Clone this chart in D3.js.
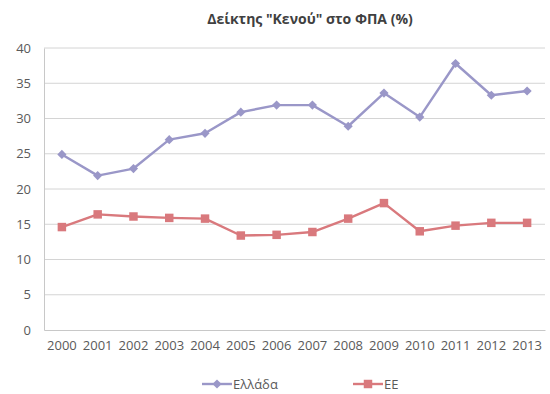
<!DOCTYPE html>
<html>
<head>
<meta charset="utf-8">
<script src="https://cdn.jsdelivr.net/npm/d3@7"></script>
<style>
  html, body { margin: 0; padding: 0; background: #fff; }
  svg { display: block; font-family: "Open Sans", "Liberation Sans", sans-serif; }
</style>
</head>
<body>
<svg id="chart" width="550" height="394"></svg>
<script>
// VAT gap index (%), Greece vs EU
const years = ["2000","2001","2002","2003","2004","2005","2006","2007","2008","2009","2010","2011","2012","2013"];
const greece = [24.9, 21.9, 22.9, 27.0, 27.9, 30.9, 31.9, 31.9, 28.9, 33.6, 30.2, 37.8, 33.3, 33.9];
const eu = [14.6, 16.4, 16.1, 15.9, 15.8, 13.4, 13.5, 13.9, 15.8, 18.0, 14.0, 14.8, 15.2, 15.2];
const yTicks = [0, 5, 10, 15, 20, 25, 30, 35, 40];
const seriesNames = ["Ελλάδα", "ΕΕ"];
const title = "Δείκτης \"Κενού\" στο ΦΠΑ (%)";

const colGreece = "#9a97c8";
const colEU = "#d9797d";

const svg = d3.select("#chart");
const m = { left: 44, right: 5, top: 48, bottom: 64 };
const W = 550, H = 394;

const x = d3.scaleBand().domain(years).range([m.left, W - m.right]);
const y = d3.scaleLinear().domain([0, 40]).range([H - m.bottom, m.top]);

// title
svg.append("text")
  .attr("x", 310).attr("y", 24)
  .attr("text-anchor", "middle")
  .attr("font-size", 14).attr("font-weight", "bold")
  .attr("fill", "#404040")
  .text(title);

// horizontal gridlines
svg.append("g").selectAll("line").data(yTicks.filter(d => d > 0)).join("line")
  .attr("x1", m.left).attr("x2", W - m.right)
  .attr("y1", d => y(d)).attr("y2", d => y(d))
  .attr("stroke", "#d4d4d4").attr("stroke-width", 1);

// y axis
const yAxis = svg.append("g")
  .attr("transform", `translate(${m.left},0)`)
  .call(d3.axisLeft(y).tickValues(yTicks).tickSize(0).tickPadding(13));
yAxis.select(".domain").attr("stroke", "#c8c8c8");
yAxis.selectAll("text").attr("font-size", 13).attr("fill", "#5a5a5a")
  .attr("font-family", "'Open Sans', sans-serif");

// x axis
const xAxis = svg.append("g")
  .attr("transform", `translate(0,${H - m.bottom})`)
  .call(d3.axisBottom(x).tickSize(0).tickPadding(11));
xAxis.select(".domain").attr("stroke", "#c8c8c8");
xAxis.selectAll("text").attr("font-size", 13).attr("fill", "#5a5a5a")
  .attr("font-family", "'Open Sans', sans-serif");

const cx = d => x(d) + x.bandwidth() / 2;

function drawSeries(values, color, marker) {
  const pts = years.map((yr, i) => ({ yr, v: values[i] }));
  svg.append("path")
    .datum(pts)
    .attr("fill", "none").attr("stroke", color).attr("stroke-width", 2.4)
    .attr("stroke-linejoin", "round")
    .attr("d", d3.line().x(d => cx(d.yr)).y(d => y(d.v)));
  svg.append("g").selectAll("path").data(pts).join("path")
    .attr("transform", d => `translate(${cx(d.yr)},${y(d.v)})`)
    .attr("d", marker)
    .attr("fill", color);
}

// square-proportioned diamond and square markers
const diamond = "M0,-4.6L4.6,0L0,4.6L-4.6,0Z";
const square = d3.symbol().type(d3.symbolSquare).size(72)();

drawSeries(greece, colGreece, diamond);
drawSeries(eu, colEU, square);

// legend
const legend = [
  { name: seriesNames[0], color: colGreece, marker: diamond, x: 202 },
  { name: seriesNames[1], color: colEU, marker: square, x: 353 }
];
const lg = svg.append("g").selectAll("g").data(legend).join("g")
  .attr("transform", d => `translate(${d.x},384)`);
lg.append("line").attr("x1", 0).attr("x2", 30).attr("y1", 0).attr("y2", 0)
  .attr("stroke", d => d.color).attr("stroke-width", 2.4);
lg.append("path").attr("transform", "translate(15,0)")
  .attr("d", d => d.marker).attr("fill", d => d.color);
lg.append("text").attr("x", 31).attr("y", 4.5)
  .attr("font-size", 13).attr("fill", "#5a5a5a")
  .text(d => d.name);
</script>
</body>
</html>
